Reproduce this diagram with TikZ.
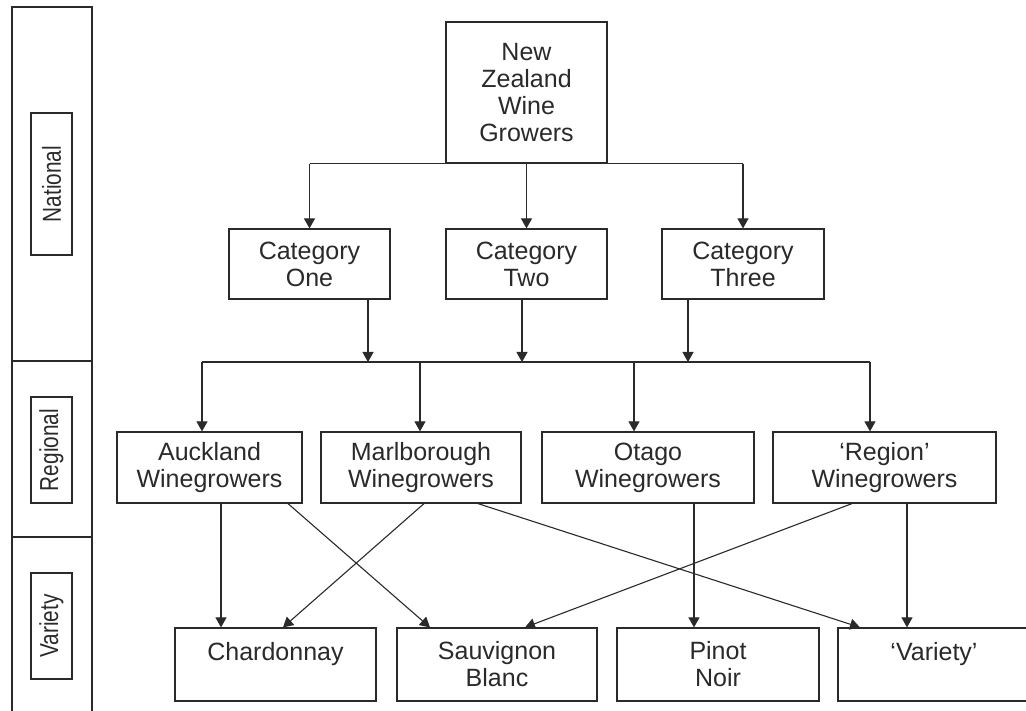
\documentclass[tikz,border=0pt]{standalone}
\usepackage{fontspec}
\setmainfont{Liberation Sans}
\newfontfamily\narrowfont[FakeStretch=0.8]{Liberation Sans}
\usetikzlibrary{arrows.meta}
\definecolor{ink}{HTML}{2A2A2A}
\tikzset{
  box/.style={draw=ink, line width=1.2pt, rectangle, inner sep=0pt, align=center,
    text=ink, font=\fontsize{25}{27}\selectfont},
  tier/.style={draw=ink, line width=1.4pt, rectangle, inner sep=0pt, rotate=90,
    minimum height=41pt, text=ink, font=\narrowfont\fontsize{26}{28}\selectfont},
  conn/.style={draw=ink, line width=1.1pt},
  arr/.style={conn, -{Triangle[width=11pt,length=10pt]}}
}
\begin{document}
\begin{tikzpicture}[x=1pt,y=-1pt]
\clip (0,0) rectangle (1026,711);
\useasboundingbox (0,0) rectangle (1026,711);
\fill[white] (0,0) rectangle (1026,711);

% left tier bar
\draw[ink, line width=1.4pt] (12,720) -- (12,7) -- (92,7) -- (92,720);
\draw[ink, line width=1.4pt] (12,361) -- (92,361);
\draw[ink, line width=1.4pt] (12,537) -- (92,537);
\node[tier, minimum width=142pt] (tnat) at (51.5,184) {National};
\node[tier, minimum width=106pt] (treg) at (51.5,450) {Regional};
\node[tier, minimum width=106pt] (tvar) at (51.5,626) {Variety};

% top
\node[box, minimum width=161pt, minimum height=141pt] (nz) at (526.5,92.5)
  {New\\Zealand\\Wine\\Growers};

% categories
\node[box, minimum width=161pt, minimum height=70pt] (c1) at (309.5,264) {Category\\One};
\node[box, minimum width=161pt, minimum height=70pt] (c2) at (526.5,264) {Category\\Two};
\node[box, minimum width=162pt, minimum height=70pt] (c3) at (743,264) {Category\\Three};

% regions
\node[box, minimum width=185pt, minimum height=71pt] (auck) at (209.5,467.5) {Auckland\\Winegrowers};
\node[box, minimum width=200pt, minimum height=71pt] (marl) at (421,467.5) {Marlborough\\Winegrowers};
\node[box, minimum width=212pt, minimum height=71pt] (otago) at (648,467.5) {Otago\\Winegrowers};
\node[box, minimum width=223pt, minimum height=71pt] (region) at (884.5,467.5) {`Region'\\Winegrowers};

% varieties
\node[box, minimum width=201pt, minimum height=73pt] (chard) at (275.5,664.5) {Chardonnay\\~};
\node[box, minimum width=200pt, minimum height=73pt] (sauv) at (497,664.5) {Sauvignon\\Blanc};
\node[box, minimum width=202pt, minimum height=73pt] (pinot) at (718,664.5) {Pinot\\Noir};
\node[box, minimum width=192pt, minimum height=73pt] (variety) at (934,664.5) {`Variety'\\~};

% national distribution
\draw[conn] (nz.south -| c1.north) -- (nz.south -| c3.north);
\draw[arr] (nz.south -| c1.north) -- (c1.north);
\draw[arr] (nz.south -| c2.north) -- (c2.north);
\draw[arr] (nz.south -| c3.north) -- (c3.north);

% regional bus
\coordinate (busL) at (202,362);
\coordinate (busR) at (870,362);
\draw[conn] (busL) -- (busR);
\draw[arr] ([xshift=58.5pt]c1.south) -- ([xshift=58.5pt]c1.south |- busL);
\draw[arr] ([xshift=-4.5pt]c2.south) -- ([xshift=-4.5pt]c2.south |- busL);
\draw[arr] ([xshift=-55pt]c3.south) -- ([xshift=-55pt]c3.south |- busL);
\draw[arr] (busL) -- ([xshift=-7.5pt]auck.north);
\draw[arr] ([xshift=-1pt]marl.north |- busL) -- ([xshift=-1pt]marl.north);
\draw[arr] ([xshift=-14pt]otago.north |- busL) -- ([xshift=-14pt]otago.north);
\draw[arr] (busR) -- ([xshift=-14.5pt]region.north);

% region to variety
\draw[arr] ([xshift=11.5pt]auck.south) -- ([xshift=-54.5pt]chard.north);
\draw[arr] ([xshift=78.5pt]auck.south) -- ([xshift=-67pt]sauv.north);
\draw[arr] ([xshift=3pt]marl.south) -- ([xshift=7.5pt]chard.north);
\draw[arr] ([xshift=57pt]marl.south) -- ([xshift=-74pt]variety.north);
\draw[arr] ([xshift=46pt]otago.south) -- ([xshift=-24pt]pinot.north);
\draw[arr] ([xshift=-32.5pt]region.south) -- ([xshift=28pt]sauv.north);
\draw[arr] ([xshift=22.5pt]region.south) -- ([xshift=-27pt]variety.north);
\end{tikzpicture}
\end{document}
